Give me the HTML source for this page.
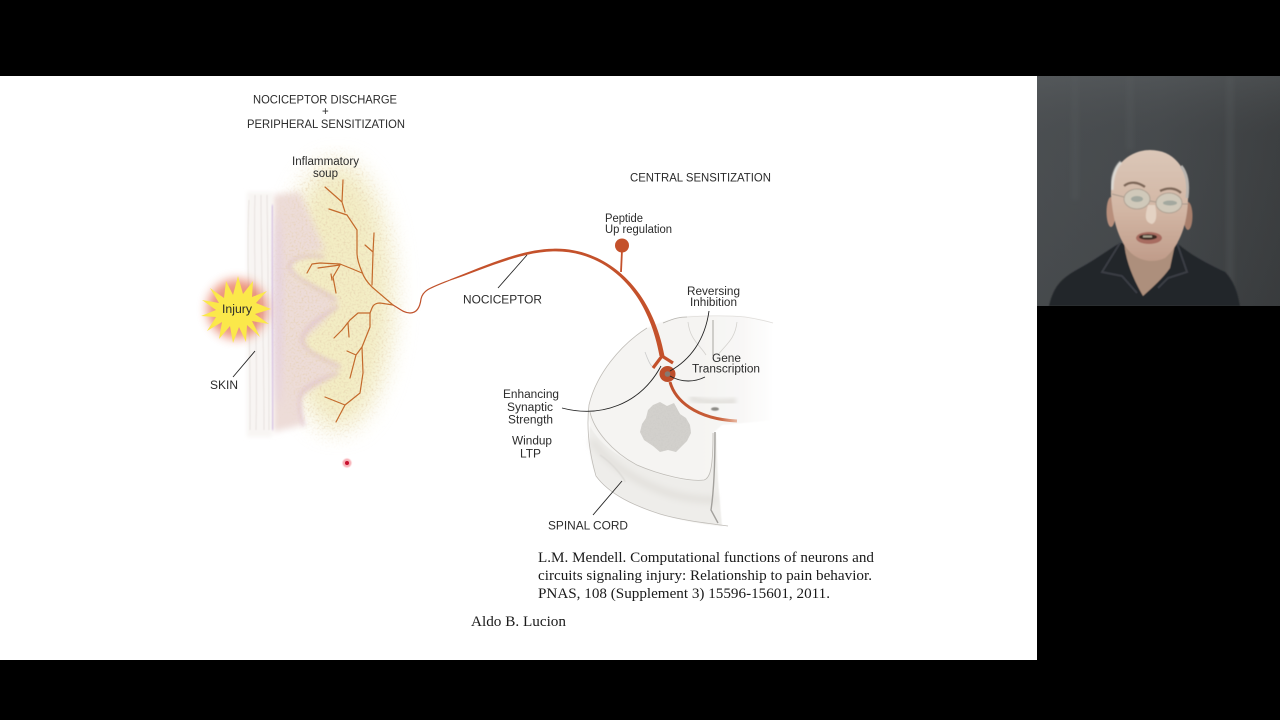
<!DOCTYPE html>
<html><head><meta charset="utf-8"><style>
html,body{margin:0;padding:0;background:#000;width:1280px;height:720px;overflow:hidden}
svg{display:block}
text{font-family:"Liberation Sans",sans-serif;fill:#2b2b2b;font-size:11.5px}
.s{font-family:"Liberation Serif",serif;fill:#1a1a1a;font-size:15px}
</style></head><body>
<svg width="1280" height="720" viewBox="0 0 1280 720" xmlns="http://www.w3.org/2000/svg">
<defs>
<filter id="b05"><feGaussianBlur stdDeviation=".6"/></filter>
<filter id="b1"><feGaussianBlur stdDeviation="1"/></filter>
<filter id="b2" x="-30%" y="-30%" width="160%" height="160%"><feGaussianBlur stdDeviation="2"/></filter>
<filter id="b3" x="-30%" y="-30%" width="160%" height="160%"><feGaussianBlur stdDeviation="3.5"/></filter>
<filter id="b5" x="-50%" y="-50%" width="200%" height="200%"><feGaussianBlur stdDeviation="5"/></filter>
<filter id="b10" x="-50%" y="-50%" width="200%" height="200%"><feGaussianBlur stdDeviation="10"/></filter>
<filter id="b12" x="-50%" y="-50%" width="200%" height="200%"><feGaussianBlur stdDeviation="12"/></filter>
<filter id="noise" x="0" y="0" width="100%" height="100%">
<feTurbulence type="fractalNoise" baseFrequency=".5" numOctaves="2" seed="4"/>
<feColorMatrix values="0 0 0 0 .78  0 0 0 0 .62  0 0 0 0 .42  1.7 1.7 0 0 -1.6"/>
</filter>
<filter id="noise2" x="0" y="0" width="100%" height="100%">
<feTurbulence type="fractalNoise" baseFrequency=".6" numOctaves="2" seed="9"/>
<feColorMatrix values="0 0 0 0 .55  0 0 0 0 .54  0 0 0 0 .52  1.4 1.4 0 0 -1.35"/>
</filter>
<mask id="soupmask"><ellipse cx="335" cy="296" rx="62" ry="140" fill="#fff" filter="url(#b10)"/></mask>
<clipPath id="gm"><path d="M653 405L660 402L667 406L674 403L680 414L686 418L690 425L691 433L687 441L681 447L676 452L668 450L660 452L653 446L644 440L640 432L642 424L646 418L648 410Z"/></clipPath>
<linearGradient id="fade" gradientUnits="userSpaceOnUse" x1="700" x2="775" y1="0" y2="0"><stop offset="0" stop-color="#f5f4f2"/><stop offset=".55" stop-color="#f8f7f6"/><stop offset="1" stop-color="#fff"/></linearGradient>
<linearGradient id="bg" x1="0" x2="1" y1="0" y2="0"><stop offset="0" stop-color="#4a4e51"/><stop offset=".5" stop-color="#45494c"/><stop offset="1" stop-color="#3b3e40"/></linearGradient>
<linearGradient id="bgv" x1="0" x2="0" y1="0" y2="1"><stop offset="0" stop-color="#6a6e70" stop-opacity=".3"/><stop offset=".25" stop-color="#555" stop-opacity=".06"/><stop offset="1" stop-color="#222" stop-opacity=".1"/></linearGradient>
<linearGradient id="tail" gradientUnits="userSpaceOnUse" x1="670" x2="740" y1="0" y2="0"><stop offset="0" stop-color="#c0502c"/><stop offset=".7" stop-color="#c9603a"/><stop offset="1" stop-color="#ecc4b0"/></linearGradient>
<linearGradient id="face" x1="0" x2="0" y1="0" y2="1"><stop offset="0" stop-color="#dbc7b8"/><stop offset=".55" stop-color="#d2b6a4"/><stop offset="1" stop-color="#c09c8a"/></linearGradient>
<clipPath id="cam"><rect x="1037" y="76" width="243" height="230"/></clipPath>
</defs>

<rect width="1280" height="720" fill="#000"/>
<rect x="0" y="76" width="1037" height="584" fill="#fff"/>

<!-- soup + skin -->
<ellipse cx="338" cy="296" rx="54" ry="132" fill="#f3edc4" filter="url(#b12)"/>
<path d="M273 195L300 192L325 250L296 258L289 266L295 278L338 301L322 323L303 340L308 352L340 368L322 383L300 397L302 425L273 432Z" fill="#eddcd8" filter="url(#b3)"/>
<path d="M324 257C305 254 292 258 289 266C290 276 312 285 336 300M338 306C320 318 304 328 302 340C304 352 322 358 340 367M338 373C320 380 302 388 300 397C299 408 300 418 304 426" fill="none" stroke="#dcbcc8" stroke-width="3.500" opacity=".7" filter="url(#b2)"/>
<rect x="262" y="145" width="150" height="305" filter="url(#noise)" mask="url(#soupmask)" opacity=".75"/>
<rect x="247" y="192" width="25" height="245" fill="#f8f5f3" filter="url(#b2)"/>
<g fill="none" stroke="#e4dedb" stroke-width=".8" filter="url(#b05)">
<path d="M249 200C246 260 251 340 250 430"/><path d="M255 195C253 260 258 340 256 430"/><path d="M261 195C261 260 264 340 264 430"/><path d="M267 195C268 270 269 340 269 430"/>
</g>
<path d="M272 205C271 280 274 360 273 430" stroke="#d0b9e0" stroke-width="2" fill="none" filter="url(#b1)"/>
<ellipse cx="278" cy="310" rx="5" ry="95" fill="#e2cee6" opacity=".5" filter="url(#b3)"/>

<!-- nerve branches -->
<g fill="none" stroke="#c46a2c" stroke-width="1.200" stroke-linecap="round" stroke-linejoin="round">
<path d="M393 305L372 287C367 282 364 278 362 272C359 265 357 258 357 253L357 230L347 215L329 209"/>
<path d="M345 212L342 202L343 180M325 187L342 202"/>
<path d="M374 233L373 253L372 285M365 245L373 252"/>
<path d="M362 273L350 268L340 264L320 263L312 264L307 273M318 268L340 265"/>
<path d="M340 265L333 277L336 293M332 280L331 274"/>
<path d="M393 305L380 303C376 303 373 305 372 308L370 313L370 327L362 347L363 373L360 393L345 405L325 397M345 405L336 422"/>
<path d="M370 313L358 313L350 320L342 330L334 338M348 323L349 337"/>
<path d="M362 347L356 355L350 378M347 351L356 355"/>
</g>
<path d="M393 305C400 309 404 313 410 313C417 313 420 307 421 299C423 290 430 288 450 280" fill="none" stroke="#c0522b" stroke-width="1.200"/>

<!-- spinal cord -->
<path d="M647 328C620 345 596 375 589 405C588 412 589 420 590 425C600 445 620 458 650 470C670 478 690 482 704 480C712 478 713 465 713 433L722 425L775 420L775 323C760 318 745 316 735 316L690 316C680 317 665 320 647 328Z" fill="url(#fade)" filter="url(#b05)"/>
<path d="M590 425C600 445 620 458 650 470C670 478 690 482 704 480C711 478 713 465 713 433L716 433L718 480L722 526C700 524 680 520 660 514C635 506 612 495 597 477C590 462 588 445 590 425Z" fill="#eeedea" filter="url(#b05)"/>
<path d="M592 440C605 462 640 485 675 495C695 500 710 500 716 500" stroke="#e2e0dc" stroke-width="7" fill="none" filter="url(#b3)"/>
<path d="M600 455C615 465 625 480 625 482" stroke="#d8d6d2" stroke-width="1" fill="none" filter="url(#b05)"/>
<g fill="none" stroke="#bfbcb7" stroke-width=".8" stroke-linejoin="round">
<path d="M647 328C620 345 596 375 589 405C586 430 590 455 596 476C610 495 635 506 660 514C680 520 705 523 728 526"/>
<path d="M590 412C594 430 612 452 637 465C660 475 690 482 704 480C711 478 713 465 713 433"/>
<path d="M663 323C675 318 680 317 687 317" stroke="#b5b3ae"/>
<path d="M687 317C700 316 725 315 745 317C758 319 766 321 773 323" stroke="#dfddda"/>
<path d="M688 322C690 340 700 345 706 355M737 322C735 340 725 345 718 355" stroke="#d4d2ce"/>
<path d="M645 352C648 360 650 365 652 366" stroke="#ccc"/>
</g>
<path d="M713 320V356" stroke="#a8a6a2" stroke-width="1"/>
<path d="M715 432C715 460 714 490 711 510L718 523" stroke="#a3a19d" stroke-width="1.400" fill="none"/>
<path d="M690 398C700 402 720 403 736 401" stroke="#e2e0dc" stroke-width="6" fill="none" filter="url(#b2)"/>
<ellipse cx="715" cy="409" rx="4" ry="1.800" fill="#8c8a85" filter="url(#b05)"/>
<path d="M653 405L660 402L667 406L674 403L680 414L686 418L690 425L691 433L687 441L681 447L676 452L668 450L660 452L653 446L644 440L640 432L642 424L646 418L648 410Z" fill="#d2d0cc"/>
<g clip-path="url(#gm)"><rect x="636" y="400" width="58" height="54" filter="url(#noise2)" opacity=".35"/></g>

<!-- main nociceptor, tapering -->
<path d="M450 279.400C480 268 520 249 553 248.700C598 247 650 279 664.500 356L659.500 356C646 281 598 250 553 251.400C520 252 482 270 450 280.600Z" fill="#c4512b"/>
<path d="M622 250L621 272" stroke="#c4512b" stroke-width="1.800"/>
<circle cx="622" cy="245.500" r="7" fill="#c4512b"/>
<path d="M653 368L662 356L673 363" fill="none" stroke="#c4512b" stroke-width="3.200"/>
<path d="M670 382C675 400 695 419 737 421" fill="none" stroke="url(#tail)" stroke-width="3"/>
<circle cx="667.500" cy="374" r="8" fill="#bd4e2b"/>
<circle cx="667.500" cy="374" r="2.800" fill="#857a72"/>

<!-- leader lines -->
<g fill="none" stroke="#222" stroke-width=".9">
<path d="M527 255L498 288"/>
<path d="M255 351L233 377"/>
<path d="M622 481L593 515"/>
<path d="M709 311C705 340 690 360 670 371"/>
<path d="M705 377C695 382 682 383 670 376"/>
<path d="M562 408C600 418 640 405 661 366"/>
</g>

<!-- injury -->
<circle cx="237" cy="309" r="30" fill="#e0502a" opacity=".6" filter="url(#b5)"/>
<polygon fill="#fbe84a" points="271,309 255,314 269,324 252,321 260,337 247,325 246,342 239,327 233,343 230,326 219,339 222,322 207,331 216,317 201,316 216,310 202,300 219,303 210,288 224,298 226,281 233,295 238,276 243,294 253,281 252,297 267,291 256,303"/>

<!-- text -->
<text x="253" y="103.500" textLength="144" lengthAdjust="spacingAndGlyphs">NOCICEPTOR DISCHARGE</text>
<text x="322" y="115" font-size="11">+</text>
<text x="247" y="128" textLength="158" lengthAdjust="spacingAndGlyphs">PERIPHERAL SENSITIZATION</text>
<text x="292" y="165" textLength="67" lengthAdjust="spacingAndGlyphs">Inflammatory</text>
<text x="313" y="177" textLength="25" lengthAdjust="spacingAndGlyphs">soup</text>
<text x="222" y="313" textLength="30" lengthAdjust="spacingAndGlyphs">Injury</text>
<text x="210" y="389" textLength="28" lengthAdjust="spacingAndGlyphs">SKIN</text>
<text x="630" y="181.500" textLength="141" lengthAdjust="spacingAndGlyphs">CENTRAL SENSITIZATION</text>
<text x="605" y="222" textLength="38" lengthAdjust="spacingAndGlyphs">Peptide</text>
<text x="605" y="233" textLength="67" lengthAdjust="spacingAndGlyphs">Up regulation</text>
<text x="463" y="303.500" textLength="79" lengthAdjust="spacingAndGlyphs">NOCICEPTOR</text>
<text x="687" y="295" textLength="53" lengthAdjust="spacingAndGlyphs">Reversing</text>
<text x="690" y="306" textLength="47" lengthAdjust="spacingAndGlyphs">Inhibition</text>
<text x="712" y="362" textLength="29" lengthAdjust="spacingAndGlyphs">Gene</text>
<text x="692" y="372.500" textLength="68" lengthAdjust="spacingAndGlyphs">Transcription</text>
<text x="503" y="398" textLength="56" lengthAdjust="spacingAndGlyphs">Enhancing</text>
<text x="507" y="411" textLength="46" lengthAdjust="spacingAndGlyphs">Synaptic</text>
<text x="508" y="423.500" textLength="45" lengthAdjust="spacingAndGlyphs">Strength</text>
<text x="512" y="444.500" textLength="40" lengthAdjust="spacingAndGlyphs">Windup</text>
<text x="520" y="457.500" textLength="21" lengthAdjust="spacingAndGlyphs">LTP</text>
<text x="548" y="529.500" textLength="80" lengthAdjust="spacingAndGlyphs">SPINAL CORD</text>
<text class="s" x="538" y="562" textLength="336" lengthAdjust="spacingAndGlyphs">L.M. Mendell. Computational functions of neurons and</text>
<text class="s" x="538" y="580" textLength="334" lengthAdjust="spacingAndGlyphs">circuits signaling injury: Relationship to pain behavior.</text>
<text class="s" x="538" y="598" textLength="292" lengthAdjust="spacingAndGlyphs">PNAS, 108 (Supplement 3) 15596-15601, 2011.</text>
<text class="s" x="471" y="626" textLength="95" lengthAdjust="spacingAndGlyphs">Aldo B. Lucion</text>

<!-- laser pointer -->
<circle cx="347" cy="463" r="4.500" fill="#f7b0b6" filter="url(#b05)"/>
<circle cx="347" cy="463" r="2" fill="#c8102e"/>

<!-- webcam -->
<g clip-path="url(#cam)">
<rect x="1037" y="76" width="243" height="230" fill="url(#bg)"/>
<rect x="1037" y="76" width="243" height="230" fill="url(#bgv)"/>
<path d="M1075 76V200M1130 76V150M1230 76V300" stroke="#5a5e60" stroke-width="8" opacity=".25" filter="url(#b2)"/>
<g filter="url(#b05)">
<path d="M1049 306C1054 285 1062 278 1080 268C1095 260 1108 250 1120 243L1177 243C1190 255 1210 265 1225 272C1235 282 1238 295 1240 306Z" fill="#24262b"/>
<path d="M1124 240C1125 262 1135 282 1143 296C1152 288 1163 278 1170 268L1176 240Z" fill="#ad8f7c"/>
<path d="M1120 243L1102 272L1122 276L1137 293M1177 243L1187 272L1168 278L1158 288" fill="none" stroke="#3a3d44" stroke-width="2"/>
<ellipse cx="1111" cy="212" rx="4.500" ry="15" fill="#b88f7c"/>
<ellipse cx="1188" cy="216" rx="4.500" ry="14" fill="#a87f6c"/>
<path d="M1111 195C1110 165 1130 150 1150 150C1175 150 1190 170 1188 200C1187 225 1180 245 1165 258C1155 263 1140 262 1130 252C1118 240 1113 220 1111 195Z" fill="url(#face)"/>
<path d="M1112 190C1112 176 1116 167 1121 162" stroke="#dedbd6" stroke-width="3" fill="none" filter="url(#b05)"/>
<path d="M1187 198C1189 182 1186 172 1181 166" stroke="#b9b5b0" stroke-width="3" fill="none"/>
<path d="M1124 186C1130 181 1138 182 1145 187M1160 191C1168 187 1176 188 1181 193" stroke="#7e6758" stroke-width="2.400" fill="none"/>
<ellipse cx="1137" cy="199" rx="13" ry="10" fill="#d0c9ba" stroke="#b0a294" stroke-width="1"/>
<ellipse cx="1169" cy="203" rx="13" ry="10" fill="#d0c9ba" stroke="#b0a294" stroke-width="1"/>
<ellipse cx="1137" cy="199" rx="6" ry="3" fill="#a3a89f"/>
<ellipse cx="1170" cy="203" rx="7" ry="2.500" fill="#a3a89f"/>
<path d="M1150 201L1156 202M1124 197L1112 194M1182 204L1188 204" stroke="#a89a8c" stroke-width="1" fill="none"/>
<path d="M1148 205C1145 215 1144 222 1152 224C1157 222 1157 214 1155 205" fill="#e4d2c3"/>
<ellipse cx="1149" cy="238" rx="13" ry="6" fill="#a86c60"/>
<ellipse cx="1148" cy="237" rx="9" ry="2.800" fill="#3d2b22"/>
<rect x="1143" y="235.500" width="9" height="2" fill="#a9a08c"/>
</g>
</g>
</svg>
</body></html>
